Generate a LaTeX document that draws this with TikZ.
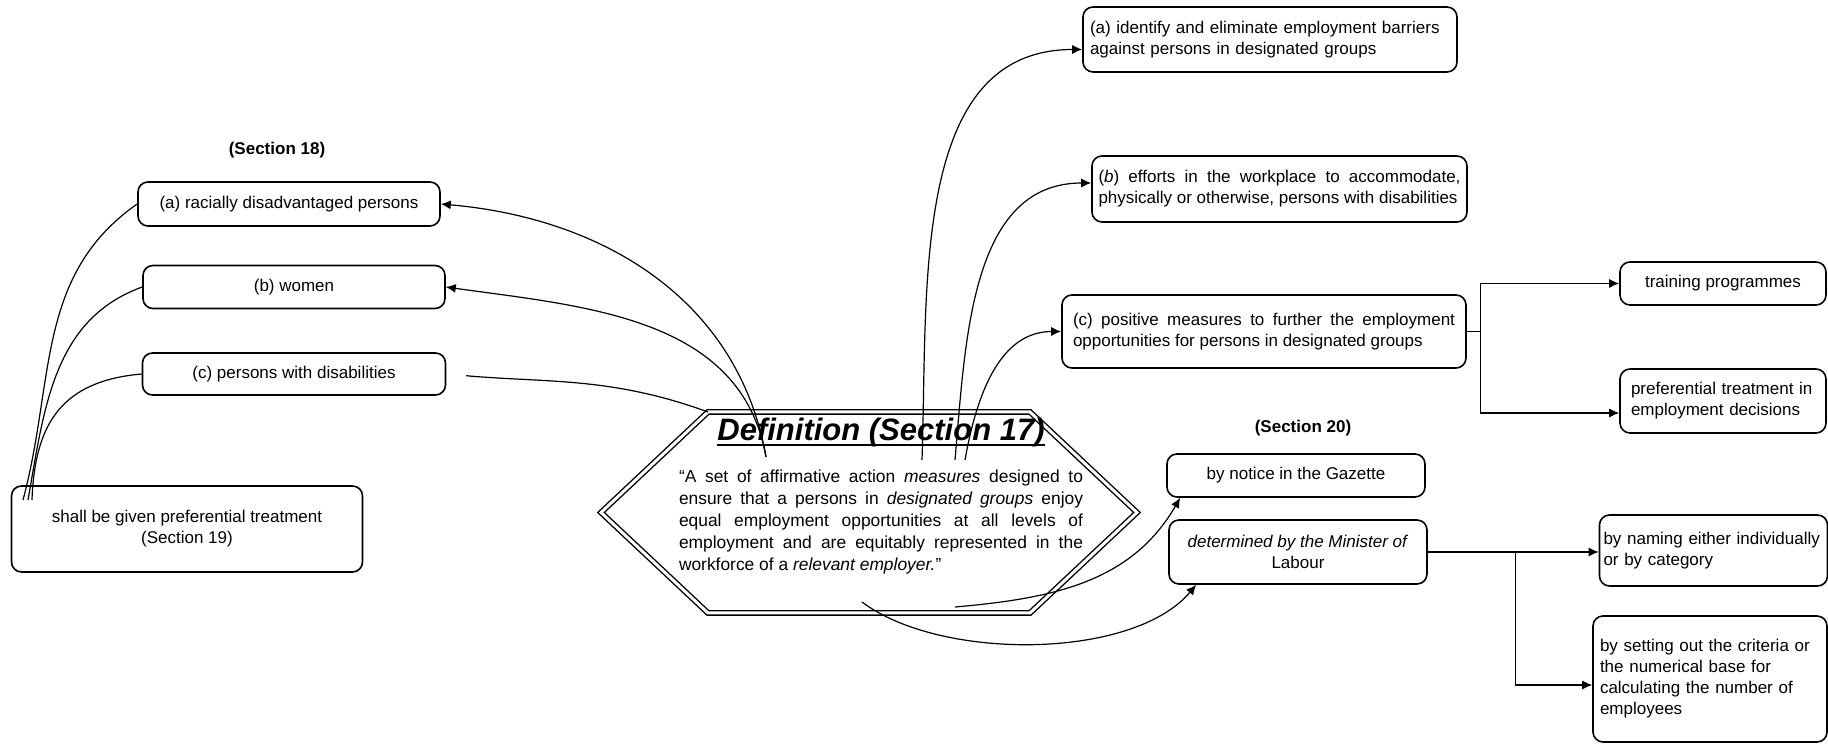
\documentclass[tikz,border=0pt]{standalone}
\usepackage{fontspec}
\setmainfont{Liberation Sans}
\usetikzlibrary{arrows.meta}

\begin{document}
\begin{tikzpicture}[x=0.5pt,y=0.5pt,font=\fontsize{8.5}{10.5}\selectfont]
	\tikzstyle{fleche}=[-{Latex[length=5pt,width=4.5pt]},line width=0.6pt]
	\tikzstyle{lien}=[line width=0.6pt]
	\tikzstyle{boite}=[draw,rounded corners=5pt,line width=0.8pt,inner sep=2pt]
	\tikzstyle{rubrique}=[font=\fontsize{8.5}{10.5}\selectfont\bfseries]
	
	\useasboundingbox (0,0) rectangle (1828,744);
	
	% groupes designes (section 18)
	\node[rubrique] (S18) at (277,594) {(Section 18)};
	\node[boite,minimum width=151pt,minimum height=22pt] (Ga) at (289,540) {(a) racially disadvantaged persons};
	\node[boite,minimum width=151pt,minimum height=21.5pt] (Gb) at (294,457) {(b) women};
	\node[boite,minimum width=151.5pt,minimum height=21pt] (Gc) at (294,370) {(c) persons with disabilities};
	\node[boite,minimum width=175.5pt,minimum height=43pt,align=center] (T) at (187,215) {shall be given preferential treatment\\(Section 19)};
	
	% definition (section 17)
	\coordinate (Hg) at (601,231.5);
	\coordinate (Hhg) at (708,332);
	\coordinate (Hhd) at (1030,332);
	\coordinate (Hd) at (1137,231.5);
	\coordinate (Hbd) at (1030,131);
	\coordinate (Hbg) at (708,131);
	\draw[double,double distance=1.5pt,line width=0.7pt] (Hg)--(Hhg)--(Hhd)--(Hd)--(Hbd)--(Hbg)--cycle;
	\node[font=\fontsize{15.5}{18}\selectfont\bfseries\itshape,inner sep=0pt] (Dt) at (881,312) {Definition (Section 17)};
	\draw[line width=1.2pt] ([yshift=-2.5pt]Dt.base west) -- ([yshift=-2.5pt]Dt.base east);
	\node[text width=202pt,align=justify,font=\fontsize{8.7}{11}\selectfont] (D) at (881,222) {“A set of affirmative action \textit{measures} designed to\linebreak ensure that a persons in \textit{designated groups} enjoy\linebreak equal employment opportunities at all levels of\linebreak employment and are equitably represented in the\linebreak workforce of a \textit{relevant employer.}”};
	
	% mesures
	\node[boite,minimum width=187pt,minimum height=32.5pt,text width=180pt,align=left] (Ma) at (1270,704.5) {(a) identify and eliminate employment barriers\\against persons in designated groups};
	\node[boite,minimum width=187.5pt,minimum height=33pt,text width=181pt,align=justify] (Mb) at (1279.5,555) {(\textit{b}) efforts in the workplace to accommodate,\linebreak physically or otherwise, persons with disabilities};
	\node[boite,minimum width=202pt,minimum height=36.5pt,text width=191pt,align=justify] (Mc) at (1264,412.5) {(c) positive measures to further the employment\linebreak opportunities for persons in designated groups};
	\node[boite,minimum width=103pt,minimum height=21.5pt] (Mca) at (1723,460.5) {training programmes};
	\node[boite,minimum width=103pt,minimum height=32pt,text width=92pt,align=left] (Mcb) at (1723,343) {preferential treatment in\\employment decisions};
	
	% employeur designe (section 20)
	\node[rubrique] (S20) at (1303,316) {(Section 20)};
	\node[boite,minimum width=129pt,minimum height=21.5pt] (N) at (1296,268.5) {by notice in the Gazette};
	\node[boite,minimum width=129pt,minimum height=32pt,align=center] (Mi) at (1298,192) {\textit{determined by the Minister of}\\Labour};
	\node[boite,minimum width=113.5pt,minimum height=35.5pt,text width=110pt,align=left] (Mia) at (1713.5,193.5) {by naming either individually\\or by category};
	\node[boite,minimum width=117pt,minimum height=63pt,text width=110pt,align=left] (Mib) at (1710,65) {by setting out the criteria or\\the numerical base for\\calculating the number of\\employees};
	
	% points de depart
	\coordinate (Dg) at (766,287);
	\coordinate (Dd1) at (922,284);
	\coordinate (Dd2) at (955,284);
	\coordinate (Dd3) at (965,284);
	\coordinate (Dn) at (955,137);
	\coordinate (Dm) at (862,142);
	\coordinate (Ta) at (23,244);
	\coordinate (Tb) at (28,244);
	\coordinate (Tc) at (32,244);
	
	\draw[fleche] (Dg) to[out=100,in=-5] (Ga.east);
	\draw[fleche] (Dg) to[out=100,in=-8] (Gb.east);
	\draw[lien,shorten <=10pt] (Gc.east) to[out=-5,in=160] (Hhg);
	\draw[lien] (Ta) to[out=75,in=215] (Ga.west);
	\draw[lien] (Tb) to[out=80,in=200] (Gb.west);
	\draw[lien] (Tc) to[out=88,in=185,looseness=1.2] (Gc.west);
	
	\draw[fleche] (Dd1) to[out=88,in=180] ([yshift=-5pt]Ma.west);
	\draw[fleche] (Dd2) to[out=85,in=180] ([yshift=3pt]Mb.west);
	\draw[fleche] (Dd3) to[out=80,in=180] (Mc.west);
	\draw[fleche] (Mc.east) -- ++(14,0) |- (Mca.west);
	\draw[fleche] (Mc.east) -- ++(14,0) |- ([yshift=-6pt]Mcb.west);
	
	\draw[fleche] (Dn) to[out=5,in=-120] ([xshift=7pt]N.south west);
	\draw[fleche] (Dm) to[out=-37,in=-130,looseness=0.75] ([xshift=14pt]Mi.south west);
	\draw[fleche] (Mi.east) -- (Mi.east -| Mia.west);
	\draw[fleche] (Mi.east) -- ++(88,0) |- ([yshift=-3pt]Mib.west);
\end{tikzpicture}
\end{document}
